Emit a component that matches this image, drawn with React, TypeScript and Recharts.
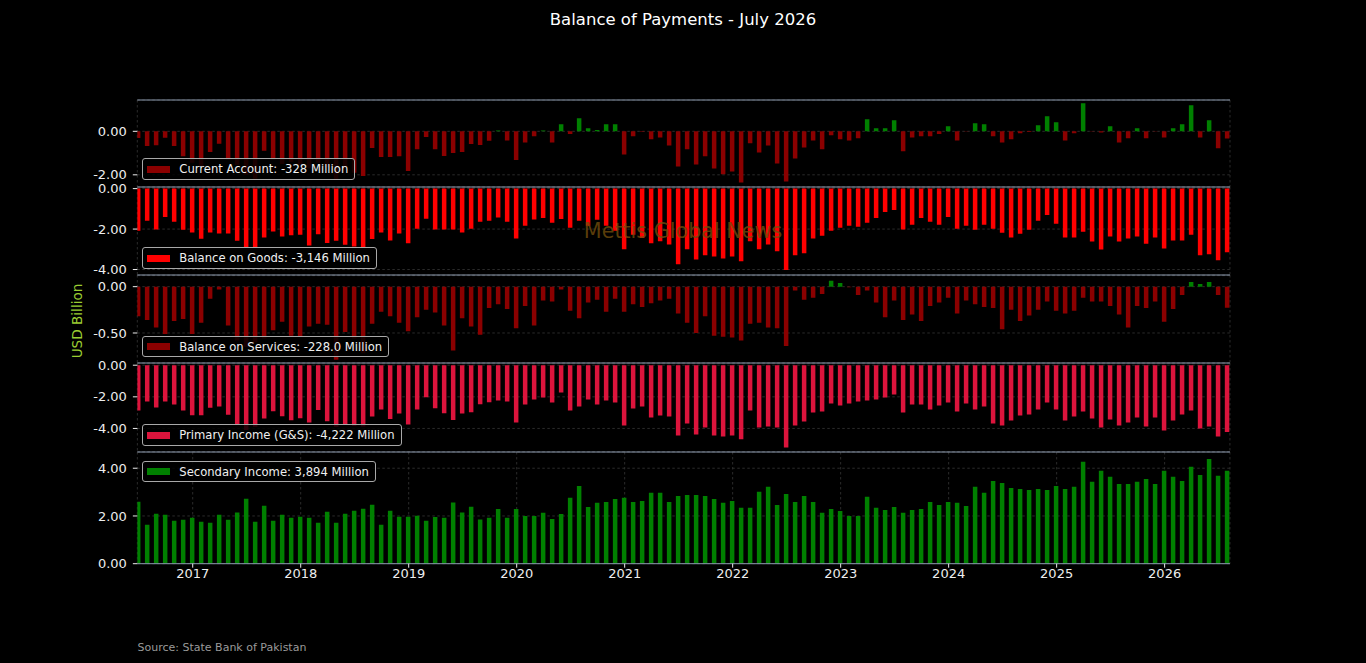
import React from 'react';
import { Bar, BarChart, CartesianGrid, Cell, ReferenceLine, XAxis, YAxis } from 'recharts';

// monthly observations, June 2016 .. July 2026
const MONTHS: string[] = [];
for (let y = 2016, m = 6; y < 2026 || (y === 2026 && m <= 7); m++) {
    if (m > 12) {
        m = 1;
        y++;
    }
    MONTHS.push(`${y}-${String(m).padStart(2, '0')}`);
}

const YEAR_LABELS = ['2017', '2018', '2019', '2020', '2021', '2022', '2023', '2024', '2025', '2026'];

const CURRENT_ACCOUNT = [
    -0.31, -0.67, -0.64, -0.29, -0.67, -1.15, -1.45, -1.6, -0.95, -0.57,
    -1.3, -1.55, -2.0, -2.18, -0.89, -1.3, -1.5, -1.4, -1.55, -1.7,
    -1.45, -1.65, -2.2, -1.7, -1.9, -2.05, -0.77, -1.18, -1.18, -1.15,
    -1.83, -0.82, -0.26, -0.82, -1.14, -1.0, -0.95, -0.58, -0.63, -0.43,
    0.04, -0.42, -1.32, -0.51, -0.23, 0.04, -0.51, 0.32, -0.12, 0.6,
    0.14, 0.06, 0.32, 0.32, -1.06, -0.23, -0.02, -0.37, -0.28, -0.65,
    -1.62, -0.83, -1.52, -1.15, -1.71, -1.97, -1.85, -2.35, -0.55, -0.97,
    -0.65, -1.48, -2.31, -1.25, -0.74, -0.42, -0.83, -0.18, -0.37, -0.42,
    -0.32, 0.55, 0.14, 0.14, 0.51, -0.92, -0.28, -0.23, -0.23, -0.12,
    0.23, -0.42, -0.01, 0.37, 0.32, -0.23, -0.51, -0.37, -0.09, -0.03,
    0.28, 0.69, 0.42, -0.42, -0.09, 1.29, -0.01, -0.05, 0.23, -0.51,
    -0.32, 0.14, -0.32, -0.01, -0.28, 0.14, 0.32, 1.2, -0.28, 0.51,
    -0.78, -0.328,
];

const GOODS = [
    -2.08, -1.59, -2.02, -1.4, -1.64, -2.03, -2.17, -2.48, -2.17, -2.22,
    -2.22, -2.58, -2.9, -2.92, -2.42, -2.12, -2.37, -2.31, -2.28, -2.81,
    -2.25, -2.69, -2.58, -2.77, -2.86, -2.91, -2.49, -2.17, -2.57, -2.22,
    -2.7, -1.98, -1.49, -2.02, -2.02, -2.02, -2.17, -1.98, -1.64, -1.59,
    -1.43, -1.64, -2.47, -1.84, -1.53, -1.45, -1.69, -1.5, -1.93, -1.59,
    -1.84, -1.54, -1.84, -2.08, -3.0, -2.28, -2.44, -2.7, -2.6, -2.76,
    -3.74, -3.0, -3.5, -3.3, -3.35, -3.45, -3.35, -3.59, -2.6, -3.0,
    -2.76, -3.1, -4.02, -3.3, -3.2, -2.47, -2.33, -2.08, -1.93, -1.84,
    -1.89, -1.69, -1.45, -1.15, -1.06, -2.02, -1.79, -1.45, -1.64, -1.79,
    -1.4, -1.98, -1.84, -2.03, -1.79, -1.98, -2.18, -2.42, -2.23, -2.03,
    -1.59, -1.3, -1.74, -2.42, -2.42, -2.13, -2.62, -3.01, -2.37, -2.62,
    -2.47, -2.37, -2.72, -2.42, -2.96, -2.57, -2.57, -2.28, -3.3, -3.25,
    -3.54, -3.146,
];

const SERVICES = [
    -0.32, -0.36, -0.44, -0.51, -0.37, -0.35, -0.51, -0.39, -0.13, -0.03,
    -0.42, -0.58, -0.65, -0.6, -0.56, -0.47, -0.38, -0.53, -0.54, -0.43,
    -0.4, -0.41, -0.79, -0.49, -0.56, -0.72, -0.4, -0.27, -0.32, -0.39,
    -0.48, -0.33, -0.25, -0.28, -0.42, -0.69, -0.34, -0.43, -0.52, -0.23,
    -0.19, -0.24, -0.45, -0.21, -0.42, -0.15, -0.16, -0.03, -0.26, -0.34,
    -0.17, -0.14, -0.27, -0.13, -0.27, -0.19, -0.22, -0.18, -0.15, -0.13,
    -0.29, -0.39, -0.5, -0.32, -0.53, -0.54, -0.55, -0.58, -0.4, -0.39,
    -0.44, -0.45, -0.64, -0.04, -0.14, -0.12, -0.08, 0.065, 0.04, -0.005,
    -0.09, -0.04, -0.17, -0.33, -0.15, -0.36, -0.3, -0.37, -0.21, -0.17,
    -0.12, -0.29, -0.15, -0.19, -0.22, -0.23, -0.46, -0.25, -0.37, -0.31,
    -0.25, -0.16, -0.26, -0.29, -0.26, -0.12, -0.16, -0.16, -0.21, -0.3,
    -0.44, -0.21, -0.23, -0.16, -0.38, -0.24, -0.09, 0.05, 0.03, 0.05,
    -0.09, -0.228,
];

const PRIMARY_INCOME = [
    -2.86, -2.29, -2.68, -2.29, -2.49, -2.86, -3.17, -3.17, -2.69, -2.61,
    -3.13, -3.72, -4.1, -3.9, -3.37, -2.91, -3.23, -3.48, -3.36, -3.62,
    -2.84, -3.54, -3.9, -3.75, -3.85, -3.88, -3.24, -2.8, -3.4, -3.05,
    -3.75, -2.8, -2.03, -2.73, -3.04, -3.47, -3.05, -2.98, -2.47, -2.35,
    -2.23, -2.29, -3.62, -2.48, -2.17, -2.04, -2.36, -1.73, -2.86, -2.61,
    -2.17, -2.48, -2.23, -2.36, -3.81, -2.74, -2.61, -3.31, -3.18, -3.24,
    -4.44, -3.68, -4.38, -3.94, -4.44, -4.51, -4.44, -4.69, -2.86, -3.94,
    -3.87, -3.94, -5.2, -3.81, -3.56, -2.99, -2.93, -2.42, -2.55, -2.42,
    -2.29, -2.23, -2.17, -2.04, -1.85, -2.99, -2.48, -2.48, -2.8, -2.55,
    -2.36, -2.93, -2.42, -2.8, -2.61, -3.68, -3.81, -3.49, -3.18, -3.12,
    -2.8, -2.36, -2.8, -3.49, -3.24, -2.93, -3.37, -3.94, -3.43, -3.81,
    -3.62, -3.31, -3.87, -3.31, -4.13, -3.49, -3.12, -2.86, -4.0, -3.87,
    -4.51, -4.222,
];

const SECONDARY_INCOME = [
    2.6, 1.63, 2.09, 2.05, 1.8, 1.84, 1.93, 1.76, 1.72, 2.05,
    1.84, 2.14, 2.72, 1.76, 2.43, 1.8, 2.05, 1.93, 1.97, 1.93,
    1.72, 2.18, 1.72, 2.09, 2.22, 2.3, 2.47, 1.63, 2.22, 1.97,
    1.97, 2.01, 1.8, 1.96, 1.93, 2.56, 2.14, 2.39, 1.85, 1.93,
    2.29, 1.92, 2.29, 2.0, 2.0, 2.13, 1.87, 2.08, 2.76, 3.26,
    2.38, 2.55, 2.59, 2.71, 2.76, 2.59, 2.63, 2.97, 2.97, 2.59,
    2.84, 2.88, 2.88, 2.84, 2.71, 2.55, 2.63, 2.34, 2.34, 3.01,
    3.22, 2.46, 2.92, 2.59, 2.84, 2.59, 2.13, 2.29, 2.21, 2.0,
    2.0, 2.8, 2.34, 2.25, 2.38, 2.13, 2.25, 2.29, 2.59, 2.46,
    2.59, 2.55, 2.42, 3.22, 2.97, 3.47, 3.38, 3.17, 3.13, 3.09,
    3.13, 3.09, 3.26, 3.13, 3.22, 4.27, 3.43, 3.89, 3.64, 3.34,
    3.34, 3.43, 3.55, 3.34, 3.89, 3.64, 3.47, 4.06, 3.72, 4.39,
    3.68, 3.894,
];

const LEGEND_LABELS = [
    'Current Account: -328 Million',
    'Balance on Goods: -3,146 Million',
    'Balance on Services: -228.0 Million',
    'Primary Income (G&S): -4,222 Million',
    'Secondary Income: 3,894 Million',
];

const rows = MONTHS.map((month, i) => ({
    i,
    month,
    ca: CURRENT_ACCOUNT[i],
    goods: GOODS[i],
    services: SERVICES[i],
    primary: PRIMARY_INCOME[i],
    secondary: SECONDARY_INCOME[i],
}));

// year boundaries sit one day after each December month-end
const yearTicks = MONTHS.map((m, i) => (m.endsWith('-12') ? i + 1 / 31 : null)).filter((v) => v !== null) as number[];

const GREEN = '#008000';
const DARK_RED = '#8b0000';
const SPINE = '#8d9bb0';
const GRID = '#363636';
const TICK = '#eeeeee';
const FONT = '"DejaVu Sans", sans-serif';

const PLOT_LEFT = 137.3;
const PLOT_RIGHT = 1230;
const Y_W = 60;
const X_DOMAIN = [-0.12, 121.29];

type PanelCfg = {
    key: string;
    top: number;
    height: number;
    domain: [number, number];
    ticks: number[];
    pos: string;
    neg: string;
    legendTop: number;
    legendColor: string;
};

const PANELS: PanelCfg[] = [
    { key: 'ca', top: 99.7, height: 87, domain: [-2.56, 1.44], ticks: [-2, 0], pos: GREEN, neg: DARK_RED, legendTop: 158.3, legendColor: DARK_RED },
    { key: 'goods', top: 186.7, height: 88.6, domain: [-4.3, 0.08], ticks: [-4, -2, 0], pos: '#ff0000', neg: '#ff0000', legendTop: 247.3, legendColor: '#ff0000' },
    { key: 'services', top: 275.3, height: 88, domain: [-0.824, 0.126], ticks: [-0.5, 0], pos: GREEN, neg: DARK_RED, legendTop: 335.7, legendColor: DARK_RED },
    { key: 'primary', top: 363.3, height: 88.7, domain: [-5.47, 0.14], ticks: [-4, -2, 0], pos: '#dc143c', neg: '#dc143c', legendTop: 424.3, legendColor: '#dc143c' },
    { key: 'secondary', top: 452, height: 111.7, domain: [0, 4.68], ticks: [0, 2, 4], pos: GREEN, neg: GREEN, legendTop: 460.7, legendColor: GREEN },
];

function yearLabel(v: number) {
    const k = yearTicks.findIndex((t) => Math.abs(t - v) < 0.5);
    return k >= 0 ? YEAR_LABELS[k] : '';
}

function Panel({ cfg, showX }: { cfg: PanelCfg; showX: boolean }) {
    const xh = showX ? 30 : 0;
    return (
        <div style={{ position: 'absolute', left: 0, top: cfg.top }}>
            <BarChart
                width={1366}
                height={cfg.height + xh}
                data={rows}
                margin={{ top: 0, right: 1366 - PLOT_RIGHT, bottom: 0, left: PLOT_LEFT - Y_W }}
            >
                <CartesianGrid stroke={GRID} strokeDasharray="2.5 2.5" strokeWidth={0.8} />
                <XAxis
                    dataKey="i"
                    type="number"
                    domain={X_DOMAIN}
                    allowDataOverflow
                    ticks={yearTicks}
                    interval={0}
                    height={xh}
                    tick={showX ? { fill: TICK, fontSize: 13, fontFamily: FONT } : false}
                    tickLine={showX ? { stroke: TICK } : false}
                    tickSize={4}
                    tickMargin={1}
                    axisLine={showX ? { stroke: SPINE } : false}
                    tickFormatter={yearLabel}
                />
                <YAxis
                    type="number"
                    domain={cfg.domain}
                    allowDataOverflow
                    ticks={cfg.ticks}
                    interval={0}
                    width={Y_W}
                    axisLine={false}
                    tickLine={{ stroke: TICK }}
                    tickSize={4.5}
                    tickMargin={6}
                    tick={{ fill: TICK, fontSize: 13, fontFamily: FONT }}
                    tickFormatter={(v: number) => v.toFixed(2)}
                />
                <ReferenceLine y={cfg.domain[1]} stroke={SPINE} strokeWidth={1.2} />
                <Bar dataKey={cfg.key} barSize={4.5} isAnimationActive={false}>
                    {rows.map((r, i) => (
                        <Cell key={i} fill={(r as any)[cfg.key] >= 0 ? cfg.pos : cfg.neg} />
                    ))}
                </Bar>
            </BarChart>
        </div>
    );
}

function LegendBox({ top, color, label }: { top: number; color: string; label: string }) {
    return (
        <div
            style={{
                position: 'absolute',
                left: 142.3,
                top,
                height: 21.7,
                boxSizing: 'border-box',
                display: 'flex',
                alignItems: 'center',
                padding: '0 6px 0 4px',
                background: 'rgba(0,0,0,0.82)',
                border: '1px solid #a8a8a8',
                borderRadius: 3,
                color: '#f0f0f0',
                fontSize: 11.6,
                fontFamily: FONT,
                whiteSpace: 'nowrap',
            }}
        >
            <span style={{ display: 'inline-block', width: 22.7, height: 7, background: color, marginRight: 9.3 }} />
            {label}
        </div>
    );
}

export default function App() {
    return (
        <div
            style={{
                position: 'absolute',
                left: 0,
                top: 0,
                width: 1366,
                height: 663,
                background: '#000',
                overflow: 'hidden',
                fontFamily: FONT,
            }}
        >
            <style>{'.recharts-surface, .recharts-wrapper { overflow: visible !important; }'}</style>
            <div
                style={{
                    position: 'absolute',
                    top: 8,
                    left: 0,
                    width: 1366,
                    height: 24,
                    lineHeight: '24px',
                    textAlign: 'center',
                    color: '#ffffff',
                    fontSize: 16.5,
                }}
            >
                Balance of Payments - July 2026
            </div>

            {PANELS.map((p, k) => (
                <Panel key={p.key} cfg={p} showX={k === PANELS.length - 1} />
            ))}

            {PANELS.map((p, k) => (
                <LegendBox key={p.key} top={p.legendTop} color={p.legendColor} label={LEGEND_LABELS[k]} />
            ))}

            <div
                style={{
                    position: 'absolute',
                    left: 77.3,
                    top: 320.5,
                    transform: 'translate(-50%, -50%) rotate(-90deg)',
                    color: '#9acd32',
                    fontSize: 13.6,
                    whiteSpace: 'nowrap',
                }}
            >
                USD Billion
            </div>

            <div
                style={{
                    position: 'absolute',
                    left: 683,
                    top: 231,
                    transform: 'translate(-50%, -50%)',
                    color: 'rgba(115,78,12,0.8)',
                    fontSize: 20.7,
                    whiteSpace: 'nowrap',
                    pointerEvents: 'none',
                }}
            >
                Mettis Global News
            </div>

            <div
                style={{
                    position: 'absolute',
                    left: 137.5,
                    top: 647,
                    transform: 'translateY(-50%)',
                    color: '#9a9a9a',
                    fontSize: 11,
                    whiteSpace: 'nowrap',
                }}
            >
                Source: State Bank of Pakistan
            </div>
        </div>
    );
}
